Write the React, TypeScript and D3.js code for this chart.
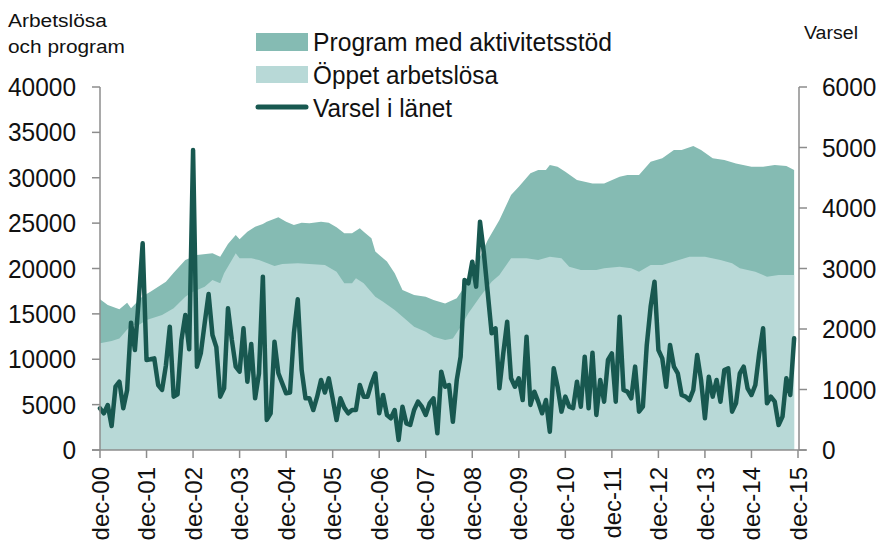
import React from "react";
import * as d3 from "d3";

// ---- Data ----
const xTickLabels = ["dec-00","dec-01","dec-02","dec-03","dec-04","dec-05","dec-06","dec-07","dec-08","dec-09","dec-10","dec-11","dec-12","dec-13","dec-14","dec-15"];
const leftTicks = [0,5000,10000,15000,20000,25000,30000,35000,40000];
const rightTicks = [0,1000,2000,3000,4000,5000,6000];

// Varsel i länet, monthly from dec-00 (index 0) to nov-15
const varsel = [
  690,607,744,397,1046,1129,690,992,2105,1653,2500,3416,
  1488,1500,1515,1074,992,1400,2039,882,920,1818,2231,1664,
  4959,1378,1600,2100,2579,1900,1700,882,1020,2342,1818,1378,
  1295,2011,1129,1752,854,1268,2865,496,607,1790,1268,1102,
  937,950,1928,2490,1322,854,854,661,882,1157,950,1185,
  850,496,854,700,607,661,661,1074,882,882,1100,1268,
  607,909,579,524,661,165,716,441,413,661,799,716,
  579,771,854,275,1295,1046,1074,468,1157,1543,2810,2755,
  3113,2700,3774,3251,2590,1928,2011,1020,1598,2121,1185,1046,
  1185,826,1873,744,964,799,607,826,303,1350,1046,634,
  882,716,690,1129,716,1543,690,1609,579,1157,799,1488,
  1598,799,2204,992,964,854,1378,634,716,1736,2369,2782,
  1653,1515,1046,1736,1378,1268,909,882,826,992,1570,1157,
  524,1212,882,1157,799,1322,1350,634,771,1268,1378,1020,
  909,1074,1598,2011,771,882,799,413,551,1185,909,1846
];

// Total (Program med aktivitetsstöd + Öppet arbetslösa): month index and value
const totalMonths = [0,2,5,7,8,11,13,17,19,22,25,29,31,33,35,36,38,40,42,43,46,48,50,52,54,57,59,61,63,65,67,68,70,71,74,76,78,81,84,86,89,92,94,97,100,103,106,108,111,113,115,116,118,120,123,127,130,134,136,139,142,145,148,150,153,155,158,161,164,168,171,174,177,179];
const totalValues = [16600,15980,15500,16230,15610,16950,17450,18550,19540,20940,21490,21670,21300,22700,23690,23210,24060,24610,24900,25160,25640,25160,24790,25050,24980,25160,25050,24540,23880,23880,24430,24060,23320,21860,20760,19470,17630,17080,16900,16530,16150,16710,18000,20390,23140,25340,28100,29020,30490,30850,30850,31400,31220,30670,29750,29380,29380,30120,30300,30300,31770,32140,33060,33060,33500,33060,32140,31950,31580,31220,31220,31400,31300,30850];

// Öppet arbetslösa: month index and value
const openMonths = [0,3,5,8,10,12,16,19,22,24,27,29,31,32,35,36,39,41,45,47,51,54,58,61,63,65,66,68,71,73,76,79,81,84,86,89,91,93,95,98,101,103,106,110,113,116,119,121,124,128,130,134,137,139,142,145,148,152,156,160,163,165,169,171,172,175,179];
const openValues = [11750,12000,12300,13770,13770,14330,14880,15610,16900,17450,18000,18730,18370,19470,21670,21120,21120,20940,20280,20500,20570,20500,20390,19650,18370,18370,18920,18370,16900,16340,15430,14330,13590,13040,12490,12120,12300,13590,15060,16900,18550,19280,21120,21120,20940,21300,21120,20200,19830,19830,20020,20200,20020,19650,20390,20390,20760,21300,21300,20940,20570,20020,19650,19280,19100,19280,19280];

const legendLabels = ["Program med aktivitetsstöd", "Öppet arbetslösa", "Varsel i länet"];

const COLORS = { program: "#85bbb3", open: "#b8d9d7", line: "#185850", axis: "#8c8c8c", text: "#111" };

export default function App() {
  const W = 880, H = 541;
  const x = d3.scaleLinear().domain([0, 180]).range([100, 798]);
  const yL = d3.scaleLinear().domain([0, 40000]).range([450, 87]);
  const yR = d3.scaleLinear().domain([0, 6000]).range([450, 87]);

  const totalPts = totalMonths.map((m, i) => [m, totalValues[i]] as [number, number]);
  const openPts = openMonths.map((m, i) => [m, openValues[i]] as [number, number]);
  const area = d3.area<[number, number]>().x(d => x(d[0])).y0(yL(0)).y1(d => yL(d[1]));
  const line = d3.line<number>().x((_, i) => x(i)).y(d => yR(d));

  const font = "'Liberation Sans', Arial, sans-serif";

  return (
    <svg width={W} height={H} style={{ position: "absolute", left: 0, top: 0 }} fontFamily={font}>
      <rect width={W} height={H} fill="#fff" />
      <path d={area(totalPts) || ""} fill={COLORS.program} />
      <path d={area(openPts) || ""} fill={COLORS.open} />
      <path d={line(varsel) || ""} fill="none" stroke={COLORS.line} strokeWidth={4.5} strokeLinejoin="round" strokeLinecap="round" />

      {/* Left axis */}
      <line x1={100} x2={100} y1={yL(40000)} y2={yL(0)} stroke={COLORS.axis} strokeWidth={1.5} />
      {leftTicks.map(t => (
        <g key={"l" + t}>
          <line x1={92} x2={100} y1={yL(t)} y2={yL(t)} stroke={COLORS.axis} strokeWidth={1.5} />
          <text x={76} y={yL(t)} dy="0.36em" textAnchor="end" fontSize={25}
            textLength={String(t).length * 13.6} lengthAdjust="spacingAndGlyphs" fill={COLORS.text}>{t}</text>
        </g>
      ))}

      {/* Right axis */}
      <line x1={799} x2={799} y1={yR(6000)} y2={yR(0)} stroke={COLORS.axis} strokeWidth={1.5} />
      {rightTicks.map(t => (
        <g key={"r" + t}>
          <line x1={799} x2={807} y1={yR(t)} y2={yR(t)} stroke={COLORS.axis} strokeWidth={1.5} />
          <text x={822} y={yR(t)} dy="0.36em" textAnchor="start" fontSize={25}
            textLength={String(t).length * 13.6} lengthAdjust="spacingAndGlyphs" fill={COLORS.text}>{t}</text>
        </g>
      ))}

      {/* Bottom axis */}
      <line x1={92} x2={806} y1={450} y2={450} stroke={COLORS.axis} strokeWidth={1.5} />
      {xTickLabels.map((lab, i) => (
        <g key={lab}>
          <line x1={x(i * 12)} x2={x(i * 12)} y1={450} y2={458} stroke={COLORS.axis} strokeWidth={1.5} />
          <text transform={`translate(${x(i * 12)},467) rotate(-90)`} dy="0.36em" textAnchor="end" fontSize={24} fill={COLORS.text}>{lab}</text>
        </g>
      ))}

      {/* Axis titles */}
      <text x={8} y={27} fontSize={18} textLength={99} lengthAdjust="spacingAndGlyphs" fill={COLORS.text}>Arbetslösa</text>
      <text x={8} y={53} fontSize={18} textLength={117} lengthAdjust="spacingAndGlyphs" fill={COLORS.text}>och program</text>
      <text x={804} y={39} fontSize={18} textLength={54} lengthAdjust="spacingAndGlyphs" fill={COLORS.text}>Varsel</text>

      {/* Legend */}
      <rect x={256} y={33} width={52} height={18} fill={COLORS.program} />
      <rect x={256} y={66} width={52} height={17} fill={COLORS.open} />
      <line x1={258} x2={306} y1={107} y2={107} stroke={COLORS.line} strokeWidth={5} strokeLinecap="round" />
      <text x={313} y={51} fontSize={25} textLength={299} lengthAdjust="spacingAndGlyphs" fill={COLORS.text}>{legendLabels[0]}</text>
      <text x={313} y={84} fontSize={25} textLength={185} lengthAdjust="spacingAndGlyphs" fill={COLORS.text}>{legendLabels[1]}</text>
      <text x={313} y={117} fontSize={25} textLength={139} lengthAdjust="spacingAndGlyphs" fill={COLORS.text}>{legendLabels[2]}</text>
    </svg>
  );
}
